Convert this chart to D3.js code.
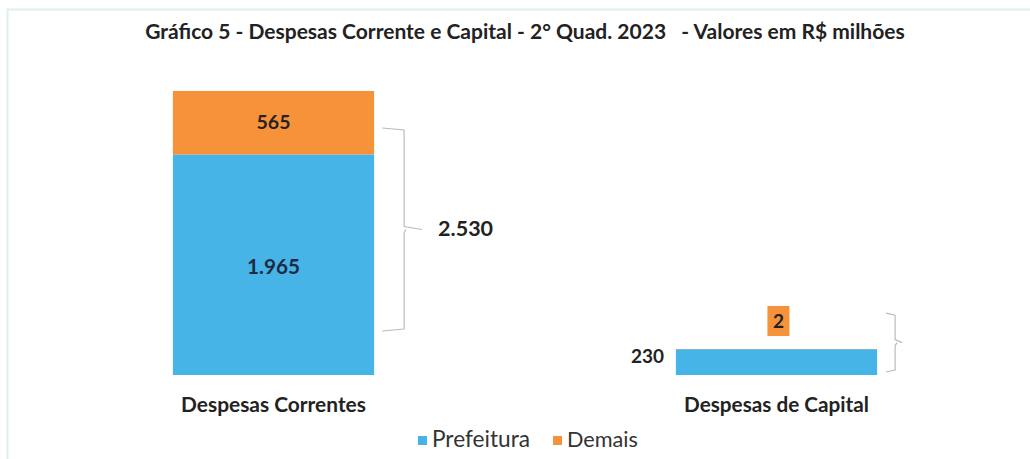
<!DOCTYPE html>
<meta charset="utf-8">
<style>
  body { margin: 0; background: #fff; }
  svg text { font-family: Lato, "Open Sans", sans-serif; white-space: pre; }
</style>
<body>
<svg id="chart" width="1030" height="459"></svg>
<script src="https://d3js.org/d3.v7.min.js"></script>
<script>
// data
var categories = ["Despesas Correntes", "Despesas de Capital"];
var prefeitura = [1965, 230];
var demais = [565, 2];
var totals = ["2.530", "232"];
var series = ["Prefeitura", "Demais"];
var colors = ["#47b4e8", "#f6923a"];

var svg = d3.select("#chart");
var fmt = d3.format(",d");
function br(v) { return fmt(v).replace(/,/g, "."); }

// scale font so text hits a target width
function fit(sel, w) {
  var n = sel.node(), s = +sel.attr("font-size");
  sel.attr("font-size", s * w / n.getComputedTextLength());
  return sel;
}

// faint frame of the scanned chart
svg.append("rect")
  .attr("x", 7.5).attr("y", 9.5).attr("width", 1040).attr("height", 460)
  .attr("fill", "none").attr("stroke", "#dfeef1").attr("stroke-width", 2);

fit(svg.append("text")
  .attr("x", 525).attr("y", 39)
  .attr("text-anchor", "middle")
  .attr("font-size", 16).attr("font-weight", 700).attr("fill", "#222")
  .text("Gráfico 5 - Despesas Corrente e Capital - 2° Quad. 2023   - Valores em R$ milhões"), 760);

var x = d3.scaleBand().domain(categories).range([22, 1028]).paddingInner(0.6).paddingOuter(0.3);
var y = d3.scaleLinear().domain([0, 2530]).range([375, 91]);

var stack = categories.map(function(c, i) {
  return { cat: c, pre: prefeitura[i], dem: demais[i] };
});

var g = svg.append("g");

// Prefeitura
g.selectAll("rect.pre").data(stack).enter().append("rect")
  .attr("class", "pre")
  .attr("x", d => x(d.cat)).attr("width", x.bandwidth())
  .attr("y", d => y(d.pre)).attr("height", d => y(0) - y(d.pre))
  .attr("fill", colors[0]);

// Demais
g.selectAll("rect.dem").data(stack).enter().append("rect")
  .attr("class", "dem")
  .attr("x", d => x(d.cat)).attr("width", x.bandwidth())
  .attr("y", d => y(d.pre + d.dem)).attr("height", d => y(d.pre) - y(d.pre + d.dem))
  .attr("fill", colors[1]);

// labels for big bar (inside)
var big = stack[0];
fit(g.append("text")
  .attr("x", x(big.cat) + x.bandwidth() / 2).attr("y", (y(0) + y(big.pre)) / 2 + 9)
  .attr("text-anchor", "middle").attr("font-size", 17).attr("font-weight", 700).attr("fill", "#1d2a44")
  .text(br(big.pre)), 53);
fit(g.append("text")
  .attr("x", x(big.cat) + x.bandwidth() / 2).attr("y", (y(big.pre) + y(big.pre + big.dem)) / 2 + 6)
  .attr("text-anchor", "middle").attr("font-size", 17).attr("font-weight", 700).attr("fill", "#2a2220")
  .text(br(big.dem)), 34);

// labels for small bar (outside)
var sm = stack[1];
fit(g.append("text")
  .attr("x", x(sm.cat) - 12).attr("y", y(sm.pre) + 14)
  .attr("text-anchor", "end").attr("font-size", 17).attr("font-weight", 700).attr("fill", "#222")
  .text(br(sm.pre)), 33);
var bx = x(sm.cat) + x.bandwidth() * 0.455, by = y(sm.pre + sm.dem) - 43;
g.append("rect").attr("x", bx).attr("y", by).attr("width", 22).attr("height", 30).attr("fill", colors[1]);
g.append("text")
  .attr("x", bx + 11).attr("y", by + 22)
  .attr("text-anchor", "middle").attr("font-size", 19).attr("font-weight", 700).attr("fill", "#222")
  .text(br(sm.dem));

// braces with totals
function brace(xv, top, bot, arm, tick, label) {
  var mid = (top + bot) / 2;
  var p = d3.path();
  p.moveTo(xv - arm, top); p.lineTo(xv, top + 2); p.lineTo(xv, mid - 3); p.lineTo(xv + tick, mid);
  p.moveTo(xv + 2, mid); p.lineTo(xv, mid + 3); p.lineTo(xv, bot - 2); p.lineTo(xv - arm, bot);
  svg.append("path").attr("d", p.toString()).attr("fill", "none").attr("stroke", "#bbb").attr("stroke-width", 1.2);
  if (label) {
    fit(svg.append("text").attr("x", xv + 34).attr("y", mid + 6)
      .attr("font-size", 17).attr("font-weight", 700).attr("fill", "#222").text(label), 55);
  }
}
brace(x(categories[0]) + x.bandwidth() + 30, y(2530) + 37, y(0) - 44, 22, 18, totals[0]);
brace(x(categories[1]) + x.bandwidth() + 18, y(sm.pre) - 36, y(0) - 3, 9, 7, null);

// category labels
svg.selectAll("text.cat").data(categories).enter().append("text")
  .attr("class", "cat")
  .attr("x", d => x(d) + x.bandwidth() / 2).attr("y", 412)
  .attr("text-anchor", "middle").attr("font-size", 17).attr("font-weight", 700).attr("fill", "#222")
  .text(d => d)
  .each(function() { fit(d3.select(this), 185); });

// legend
var leg = svg.append("g").attr("transform", "translate(418,433)");
var items = leg.selectAll("g").data(series).enter().append("g")
  .attr("transform", (d, i) => "translate(" + (i * 135) + ",0)");
items.append("rect").attr("width", 9).attr("height", 9).attr("y", 3).attr("fill", (d, i) => colors[i]);
items.append("text").attr("x", 14).attr("y", 14).attr("font-size", 16).attr("fill", "#333").text(d => d)
  .each(function(d, i) { if (i === 0) fit(d3.select(this), 98); else fit(d3.select(this), 71); });
</script>
</body>
